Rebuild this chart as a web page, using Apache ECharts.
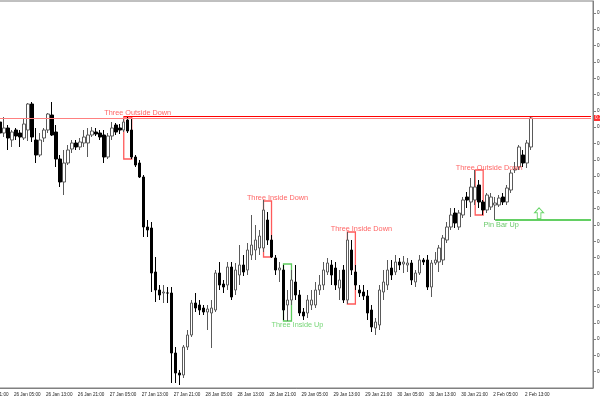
<!DOCTYPE html>
<html><head><meta charset="utf-8">
<script src="https://cdn.jsdelivr.net/npm/echarts@6/dist/echarts.min.js"></script>
<style>html,body{margin:0;padding:0;background:#fff}#c{width:600px;height:400px}</style>
</head><body><div id="c"></div>
<script>
// time-axis tick labels (every 8 hourly bars)
const xLabels = ["23 Jan 21:00","26 Jan 05:00","26 Jan 13:00","26 Jan 21:00","27 Jan 05:00","27 Jan 13:00","27 Jan 21:00","28 Jan 05:00","28 Jan 13:00","28 Jan 21:00","29 Jan 05:00","29 Jan 13:00","29 Jan 21:00","30 Jan 05:00","30 Jan 13:00","30 Jan 21:00","2 Feb 05:00","2 Feb 13:00"];

// hourly OHLC prices
const open = [0.7578,0.7567,0.7572,0.7560,0.7570,0.7567,0.7562,0.7570,0.7596,0.7560,0.7545,0.7562,0.7570,0.7585,0.7568,0.7541,0.7518,0.7537,0.7551,0.7557,0.7553,0.7557,0.7557,0.7565,0.7568,0.7567,0.7565,0.7543,0.7564,0.7575,0.7572,0.7570,0.7580,0.7570,0.7543,0.7537,0.7523,0.7473,0.7472,0.7428,0.7410,0.7407,0.7407,0.7407,0.7347,0.7327,0.7325,0.7353,0.7365,0.7397,0.7395,0.7392,0.7388,0.7387,0.7390,0.7427,0.7416,0.7415,0.7433,0.7410,0.7425,0.7435,0.7430,0.7445,0.7450,0.7452,0.7452,0.7480,0.7460,0.7442,0.7430,0.7430,0.7395,0.7400,0.7418,0.7405,0.7388,0.7387,0.7395,0.7395,0.7410,0.7415,0.7428,0.7435,0.7432,0.7412,0.7430,0.7400,0.7450,0.7428,0.7410,0.7408,0.7404,0.7390,0.7372,0.7375,0.7408,0.7415,0.7432,0.7428,
  0.7438,0.7436,0.7435,0.7437,0.7418,0.7427,0.7440,0.7440,0.7413,0.7437,0.7438,0.7440,0.7460,0.7473,0.7487,0.7473,0.7485,0.7503,0.7498,0.7500,0.7515,0.7498,0.7490,0.7493,0.7495,0.7495,0.7503,0.7498,0.7510,0.7530,0.7533,0.7545,0.7537,0.7553];
const close = [0.7567,0.7572,0.7562,0.7568,0.7564,0.7563,0.7576,0.7596,0.7563,0.7545,0.7560,0.7570,0.7586,0.7565,0.7541,0.7518,0.7537,0.7550,0.7557,0.7553,0.7558,0.7563,0.7565,0.7569,0.7566,0.7563,0.7543,0.7564,0.7572,0.7568,0.7570,0.7578,0.7569,0.7543,0.7535,0.7523,0.7473,0.7470,0.7427,0.7410,0.7405,0.7408,0.7407,0.7347,0.7327,0.7325,0.7353,0.7365,0.7397,0.7392,0.7390,0.7388,0.7391,0.7392,0.7427,0.7415,0.7413,0.7433,0.7403,0.7430,0.7435,0.7428,0.7450,0.7455,0.7460,0.7464,0.7490,0.7460,0.7443,0.7430,0.7432,0.7390,0.7400,0.7420,0.7405,0.7387,0.7384,0.7400,0.7400,0.7410,0.7415,0.7430,0.7437,0.7425,0.7415,0.7420,0.7400,0.7460,0.7430,0.7415,0.7407,0.7404,0.7387,0.7373,0.7378,0.7410,0.7418,0.7430,0.7425,0.7438,
  0.7435,0.7438,0.7437,0.7420,0.7427,0.7440,0.7438,0.7413,0.7437,0.7440,0.7452,0.7462,0.7473,0.7485,0.7477,0.7487,0.7500,0.7500,0.7513,0.7513,0.7498,0.7490,0.7505,0.7503,0.7497,0.7502,0.7498,0.7512,0.7527,0.7531,0.7553,0.7537,0.7557,0.7582];
const low = [0.7566,0.7563,0.7550,0.7553,0.7560,0.7553,0.7560,0.7559,0.7558,0.7537,0.7543,0.7558,0.7567,0.7564,0.7533,0.7513,0.7505,0.7535,0.7547,0.7550,0.7550,0.7553,0.7543,0.7563,0.7564,0.7560,0.7537,0.7541,0.7560,0.7565,0.7566,0.7568,0.7567,0.7541,0.7533,0.7522,0.7463,0.7463,0.7408,0.7398,0.7400,0.7397,0.7397,0.7317,0.7317,0.7315,0.7322,0.7350,0.7363,0.7388,0.7385,0.7385,0.7370,0.7352,0.7388,0.7410,0.7407,0.7410,0.7400,0.7405,0.7415,0.7424,0.7425,0.7440,0.7440,0.7445,0.7448,0.7455,0.7442,0.7425,0.7418,0.7380,0.7379,0.7395,0.7400,0.7384,0.7380,0.7382,0.7390,0.7392,0.7405,0.7410,0.7425,0.7415,0.7410,0.7400,0.7397,0.7396,0.7425,0.7410,0.7403,0.7400,0.7380,0.7368,0.7365,0.7370,0.7400,0.7410,0.7420,0.7425,
  0.7430,0.7427,0.7428,0.7415,0.7413,0.7425,0.7435,0.7410,0.7403,0.7435,0.7428,0.7435,0.7457,0.7470,0.7472,0.7470,0.7482,0.7492,0.7483,0.7495,0.7492,0.7485,0.7487,0.7490,0.7480,0.7493,0.7495,0.7495,0.7507,0.7527,0.7530,0.7533,0.7532,0.7550];
const high = [0.7598,0.7583,0.7575,0.7570,0.7572,0.7570,0.7582,0.7597,0.7598,0.7572,0.7567,0.7572,0.7587,0.7598,0.7575,0.7545,0.7550,0.7555,0.7560,0.7560,0.7562,0.7570,0.7572,0.7573,0.7572,0.7570,0.7570,0.7567,0.7578,0.7577,0.7576,0.7582,0.7584,0.7582,0.7545,0.7540,0.7525,0.7480,0.7478,0.7443,0.7415,0.7415,0.7413,0.7413,0.7353,0.7330,0.7355,0.7370,0.7400,0.7407,0.7400,0.7395,0.7395,0.7400,0.7430,0.7438,0.7420,0.7438,0.7438,0.7437,0.7455,0.7445,0.7457,0.7485,0.7475,0.7470,0.7500,0.7488,0.7465,0.7445,0.7438,0.7435,0.7410,0.7430,0.7435,0.7410,0.7392,0.7405,0.7410,0.7418,0.7425,0.7438,0.7442,0.7440,0.7438,0.7430,0.7435,0.7468,0.7460,0.7435,0.7415,0.7415,0.7410,0.7395,0.7382,0.7415,0.7430,0.7440,0.7440,0.7445,
  0.7442,0.7444,0.7442,0.7440,0.7430,0.7445,0.7442,0.7445,0.7440,0.7448,0.7455,0.7465,0.7478,0.7492,0.7492,0.7490,0.7503,0.7508,0.7522,0.7530,0.7520,0.7500,0.7507,0.7507,0.7503,0.7505,0.7507,0.7515,0.7530,0.7538,0.7555,0.7550,0.7560,0.7583];

// price axis
const yMin = 0.7312, yMax = 0.7699, yStep = 0.00163;

// detected patterns: bar range, price box, label anchor
const patternNames = ["Three Outside Down","Three Inside Down","Three Inside Down","Three Inside Up","Three Outside Down"];
const patternFrom = [31,66,87,71,119];
const patternTo = [33,68,89,73,121];
const patternTop = [0.7583,0.7499,0.7468,0.7436,0.7530];
const patternBottom = [0.7541,0.7443,0.7396,0.7379,0.7485];
const patternUp = [false,false,false,true,false];
const patternTextBar = [35,70,91,75,123];
const patternTextPrice = [0.75875,0.75025,0.7471,0.7375,0.75325];

// lines
const resistStart = 31, resistPrice = 0.75835;   // red ray
const bidPrice = 0.7582;                          // price line
const pinBar = 124, pinPrice = 0.7480, pinTextBar = 126, pinTextPrice = 0.74752;
const arrowBar = 135, arrowPrice = 0.74867;

const PAD = 8, SLOTS = 157;
const RED = '#ff3b3b';

const cats = Array.from({length: SLOTS}, (_, k) => String(k));
const labelAt = k => { if ((k - 3) % 8 !== 0) return null; const j = (k - 3) / 8; return j >= 0 && j < xLabels.length ? xLabels[j] : null; };
const candle = [];
for (let k = 0; k < PAD + open.length; k++) {
  const i = k - PAD;
  candle.push(i < 0 ? ['-','-','-','-'] : [open[i], close[i], low[i], high[i]]);
}
const areas = patternNames.map((n, p) => [
  {coord: [patternFrom[p] + PAD, patternTop[p]], itemStyle: {color: 'rgba(0,0,0,0)', borderColor: patternUp[p] ? '#5ccc5c' : '#ff5a5a', borderWidth: 1.3}},
  {coord: [patternTo[p] + PAD, patternBottom[p]]}
]);
const texts = patternNames.map((n, p) => ({name: n, value: [patternTextBar[p] + PAD, patternTextPrice[p]], label: {color: patternUp[p] ? '#55cc55' : RED}}));
texts.push({name: 'Pin Bar Up', value: [pinTextBar + PAD, pinTextPrice], label: {color: '#44bb44'}});

const chart = echarts.init(document.getElementById('c'), null, {renderer: 'canvas'});
chart.setOption({
  animation: false,
  backgroundColor: '#fff',
  grid: {left: -34, right: 7, top: 1, bottom: 12, show: true, borderColor: '#808080', borderWidth: 1, outerBoundsMode: 'none', containLabel: false},
  xAxis: {
    type: 'category', data: cats, boundaryGap: true,
    axisLine: {lineStyle: {color: '#808080', width: 1}},
    axisTick: {alignWithLabel: true, length: 3, interval: (k) => labelAt(k) !== null, lineStyle: {color: '#808080'}},
    axisLabel: {interval: (k) => labelAt(k) !== null, formatter: (v, k) => labelAt(k) || '', fontSize: 4.6, fontFamily: 'Liberation Sans', color: '#222', align: 'left', margin: 4, padding: [0,0,0,2]},
    splitLine: {show: false}
  },
  yAxis: {
    type: 'value', position: 'right', min: yMin, max: yMax, interval: yStep, scale: true,
    axisLine: {show: true, lineStyle: {color: '#808080'}},
    axisTick: {show: true, length: 3, lineStyle: {color: '#808080'}},
    axisLabel: {fontSize: 4.6, fontFamily: 'Liberation Sans', color: '#222', margin: 4, showMinLabel: false, showMaxLabel: false, formatter: v => v.toFixed(4)},
    splitLine: {show: false}
  },
  series: [
    {
      type: 'candlestick', data: candle, barWidth: 3,
      itemStyle: {color: '#ffffff', color0: '#000000', borderColor: '#5a5a5a', borderColor0: '#000000', borderWidth: 1},
      markArea: {silent: true, data: areas},
      markLine: {
        silent: true, symbol: 'none', animation: false,
        data: [
          [{coord: [0, bidPrice], lineStyle: {color: '#ff8080', width: 1.2, type: 'solid'},
            label: {show: true, position: 'end', distance: 3, formatter: () => bidPrice.toFixed(4), backgroundColor: '#ff3030', color: '#fff', fontSize: 4.6, padding: [1,1,0,1]}},
           {coord: [SLOTS - 1, bidPrice]}],
          [{coord: [resistStart + PAD, resistPrice]}, {coord: [SLOTS - 1, resistPrice]}],
          [{coord: [pinBar + PAD, pinPrice], lineStyle: {color: '#2fbf2f', width: 1.5, type: 'solid'}}, {coord: [SLOTS - 1, pinPrice]}]
        ],
        lineStyle: {color: '#ff0000', width: 1.2, type: 'solid'},
        label: {show: false}
      }
    },
    {
      type: 'scatter', data: texts, symbolSize: 0, silent: true,
      label: {show: true, position: 'inside', formatter: '{b}', fontSize: 7.3, fontFamily: 'Liberation Sans', offset: [-2, 0]}
    },
    {
      type: 'scatter', silent: true,
      data: [[arrowBar + PAD, arrowPrice]],
      symbol: 'path://M5,0 L10,5 L7,5 L7,11 L3,11 L3,5 L0,5 Z', symbolSize: [9, 11],
      itemStyle: {color: 'rgba(0,0,0,0)', borderColor: '#44cc44', borderWidth: 1}
    }
  ]
});
</script></body></html>
